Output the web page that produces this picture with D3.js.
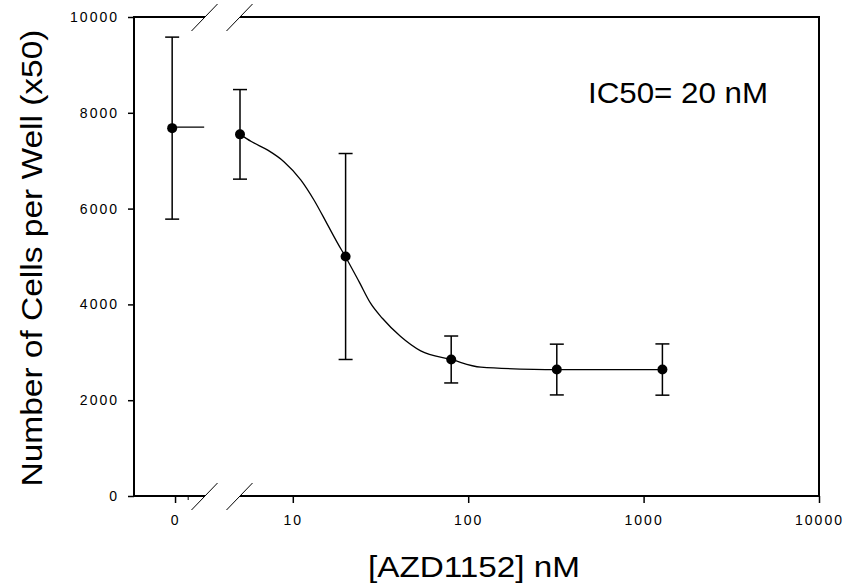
<!DOCTYPE html>
<html>
<head>
<meta charset="utf-8">
<script src="https://cdn.jsdelivr.net/npm/d3@7"></script>
<style>
  body { margin: 0; background: #fff; }
  svg { display: block; font-family: "Liberation Sans", Arial, sans-serif; }
  .tick text { font-size: 14px; letter-spacing: 2px; fill: #000; }
</style>
</head>
<body>
<div id="chart"></div>
<script>
// control (0 nM) drawn on its own short axis segment
let ctrlX = [-0.07]
let ctrlMean = [7680]
let ctrlErr = [1900]
let ctrlFitTop = 7700

// treated wells, nM
let conc = [5, 20, 80, 320, 1280]
let cells = [7550, 5000, 2850, 2640, 2640]
let cellsErr = [935, 2150, 490, 530, 535]

// fitted curve
let fitConc = [5, 5.8, 7.2, 8.9, 11.1, 13.2, 15.8, 18, 20, 23.9, 27.8, 32.4, 41.2, 53.6, 80, 118, 236, 320, 1280]
let fitCells = [7550, 7400, 7220, 6980, 6600, 6180, 5660, 5280, 4990, 4470, 4020, 3710, 3330, 3030, 2850, 2690, 2645, 2640, 2640]

let yTicks = [0, 2000, 4000, 6000, 8000, 10000]
let xTicks = [10, 100, 1000, 10000]

var width = 847, height = 588;
var svg = d3.select("#chart").append("svg")
  .attr("width", width)
  .attr("height", height);

var pLeft = 134, pRight = 819, pTop = 17, pBottom = 496;
var brk1 = 205, brk2 = 240;

var yScale = d3.scaleLinear().domain([0, 10000]).range([pBottom, pTop]);
var xLog = d3.scaleLog().domain([5, 10000]).range([brk2, pRight]);
var xCtrl = d3.scaleLinear().domain([-1, 0.73]).range([pLeft, brk1]);

// y axis
svg.append("g")
  .attr("transform", "translate(" + pLeft + ",0)")
  .call(d3.axisLeft(yScale).tickValues(yTicks).tickFormat(d3.format("d")).tickSize(6).tickPadding(9))
  .call(g => g.select(".domain").remove())
  .call(g => g.selectAll(".tick line").attr("stroke", "#000").attr("stroke-width", 1.5));

// x axis, log segment
svg.append("g")
  .attr("transform", "translate(0," + pBottom + ")")
  .call(d3.axisBottom(xLog).tickValues(xTicks).tickFormat(d3.format("d")).tickSize(7).tickPadding(12))
  .call(g => g.select(".domain").remove())
  .call(g => g.selectAll(".tick line").attr("stroke", "#000").attr("stroke-width", 1.5));

// x axis, control segment
svg.append("g")
  .attr("transform", "translate(0," + pBottom + ")")
  .call(d3.axisBottom(xCtrl).tickValues([0]).tickFormat(d => "0").tickSize(7).tickPadding(12))
  .call(g => g.select(".domain").remove())
  .call(g => g.selectAll(".tick line").attr("stroke", "#000").attr("stroke-width", 1.5));

svg.append("line")
  .attr("x1", xCtrl(0.32)).attr("x2", xCtrl(0.32))
  .attr("y1", pBottom).attr("y2", pBottom + 4)
  .attr("stroke", "#000").attr("stroke-width", 1);

// frame with the break
var frame = svg.append("g").attr("stroke", "#000").attr("stroke-width", 2).attr("fill", "none");
frame.append("path").attr("d",
  "M" + brk1 + "," + pTop + "H" + pLeft + "V" + pBottom + "H" + brk1);
frame.append("path").attr("d",
  "M" + brk2 + "," + pTop + "H" + pRight + "V" + pBottom + "H" + brk2);

// break marks
[brk1, brk2].forEach(bx => {
  [pTop, pBottom].forEach(by => {
    svg.append("line")
      .attr("x1", bx - 13.5).attr("y1", by + 14)
      .attr("x2", bx + 12.5).attr("y2", by - 13)
      .attr("stroke", "#000").attr("stroke-width", 1);
  });
});

// fitted curve
var line = d3.line()
  .x(d => xLog(d[0]))
  .y(d => yScale(d[1]))
  .curve(d3.curveMonotoneX);

svg.append("path")
  .datum(fitConc.map((c, i) => [c, fitCells[i]]))
  .attr("fill", "none")
  .attr("stroke", "#000")
  .attr("stroke-width", 1.3)
  .attr("d", line);

svg.append("line")
  .attr("x1", xCtrl(ctrlX[0])).attr("x2", xCtrl(0.71))
  .attr("y1", yScale(ctrlFitTop)).attr("y2", yScale(ctrlFitTop))
  .attr("stroke", "#000").attr("stroke-width", 1.3);

// error bars and points
var pts = conc.map((c, i) => ({ x: xLog(c), m: cells[i], e: cellsErr[i] }))
  .concat(ctrlX.map((c, i) => ({ x: xCtrl(c), m: ctrlMean[i], e: ctrlErr[i] })));

var cap = 7;
pts.forEach(p => {
  var g = svg.append("g").attr("stroke", "#000").attr("stroke-width", 1.5);
  g.append("line").attr("x1", p.x).attr("x2", p.x)
    .attr("y1", yScale(p.m + p.e)).attr("y2", yScale(p.m - p.e));
  g.append("line").attr("x1", p.x - cap).attr("x2", p.x + cap)
    .attr("y1", yScale(p.m + p.e)).attr("y2", yScale(p.m + p.e));
  g.append("line").attr("x1", p.x - cap).attr("x2", p.x + cap)
    .attr("y1", yScale(p.m - p.e)).attr("y2", yScale(p.m - p.e));
});

svg.selectAll("circle.pt")
  .data(pts)
  .enter().append("circle")
  .attr("class", "pt")
  .attr("cx", d => d.x)
  .attr("cy", d => yScale(d.m))
  .attr("r", 5)
  .attr("fill", "#000");

// labels
svg.append("text")
  .attr("transform", "translate(42,258) rotate(-90)")
  .attr("text-anchor", "middle")
  .attr("font-size", 30)
  .attr("textLength", 457)
  .attr("lengthAdjust", "spacingAndGlyphs")
  .text("Number of Cells per Well (x50)");

svg.append("text")
  .attr("x", 474).attr("y", 577)
  .attr("text-anchor", "middle")
  .attr("font-size", 29)
  .attr("textLength", 212)
  .attr("lengthAdjust", "spacingAndGlyphs")
  .text("[AZD1152] nM");

svg.append("text")
  .attr("x", 678).attr("y", 103)
  .attr("text-anchor", "middle")
  .attr("font-size", 30)
  .attr("textLength", 180)
  .attr("lengthAdjust", "spacingAndGlyphs")
  .text("IC50= 20 nM");
</script>
</body>
</html>
